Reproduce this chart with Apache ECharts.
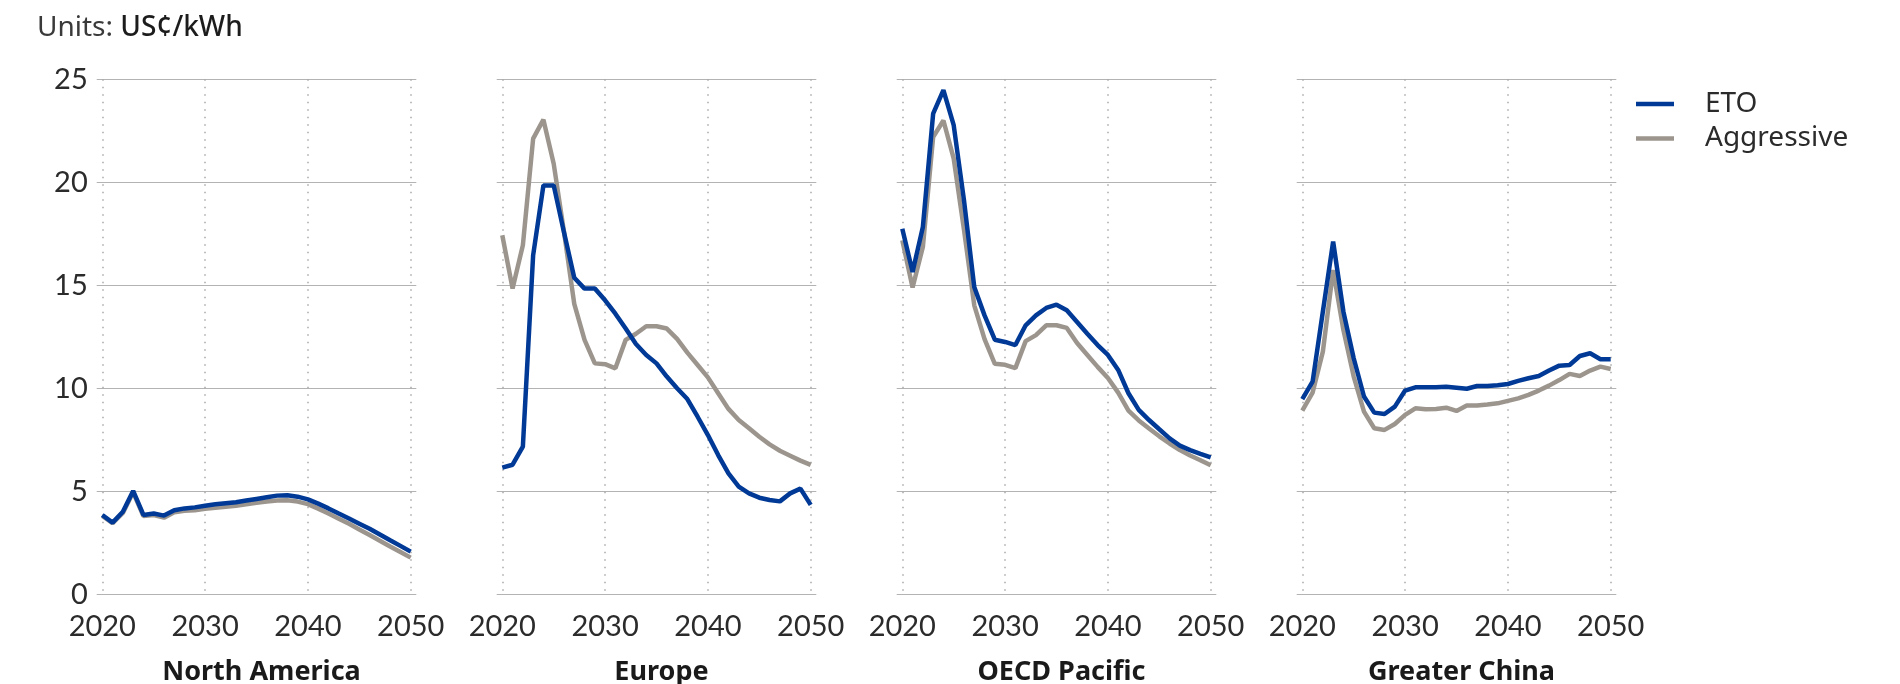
<!DOCTYPE html>
<html>
<head>
<meta charset="utf-8">
<script src="https://cdn.jsdelivr.net/npm/echarts@6/dist/echarts.min.js"></script>
<style>
  html, body { margin: 0; padding: 0; background: #ffffff; }
  #chart { width: 1900px; height: 684px; }
</style>
</head>
<body>
<div id="chart"></div>
<script>
// Levelized electricity price by region, US cents per kWh
const years = [2020, 2021, 2022, 2023, 2024, 2025, 2026, 2027, 2028, 2029,
  2030, 2031, 2032, 2033, 2034, 2035, 2036, 2037, 2038, 2039,
  2040, 2041, 2042, 2043, 2044, 2045, 2046, 2047, 2048, 2049, 2050];

const regions = ['North America', 'Europe', 'OECD Pacific', 'Greater China'];
const scenarios = ['ETO', 'Aggressive'];
const yTicks = [0, 5, 10, 15, 20, 25];
const xTicks = [2020, 2030, 2040, 2050];

const northAmericaETO = [3.85, 3.48, 4.01, 5.02, 3.85, 3.92, 3.82, 4.08, 4.17, 4.22,
  4.30, 4.37, 4.42, 4.47, 4.55, 4.63, 4.71, 4.79, 4.81, 4.74,
  4.61, 4.40, 4.17, 3.92, 3.68, 3.43, 3.18, 2.90, 2.62, 2.35, 2.07];
const northAmericaAggressive = [3.80, 3.45, 3.95, 4.95, 3.80, 3.85, 3.72, 3.98, 4.05, 4.08,
  4.15, 4.20, 4.25, 4.30, 4.37, 4.44, 4.50, 4.55, 4.57, 4.50,
  4.38, 4.16, 3.92, 3.67, 3.42, 3.15, 2.88, 2.60, 2.32, 2.05, 1.78];

const europeETO = [6.15, 6.29, 7.17, 16.46, 19.85, 19.85, 17.57, 15.37, 14.84, 14.84,
  14.27, 13.62, 12.90, 12.15, 11.62, 11.21, 10.57, 10.00, 9.48, 8.62,
  7.73, 6.76, 5.87, 5.23, 4.90, 4.69, 4.58, 4.51, 4.90, 5.13, 4.34];
const europeAggressive = [17.43, 14.84, 16.94, 22.12, 23.04, 20.90, 17.60, 14.10, 12.35, 11.21,
  11.17, 10.97, 12.35, 12.65, 13.01, 13.01, 12.90, 12.40, 11.73, 11.13,
  10.53, 9.76, 9.00, 8.46, 8.06, 7.65, 7.28, 6.97, 6.73, 6.49, 6.28];

const oecdPacificETO = [17.75, 15.65, 17.83, 23.33, 24.47, 22.77, 19.13, 14.92, 13.54, 12.36,
  12.25, 12.10, 13.06, 13.54, 13.90, 14.06, 13.79, 13.22, 12.65, 12.10,
  11.62, 10.89, 9.76, 8.95, 8.46, 8.01, 7.57, 7.22, 7.00, 6.82, 6.65];
const oecdPacificAggressive = [17.18, 14.89, 16.86, 22.20, 23.00, 21.15, 17.70, 14.03, 12.39, 11.19,
  11.14, 10.98, 12.29, 12.58, 13.06, 13.06, 12.93, 12.20, 11.62, 11.04,
  10.50, 9.79, 8.92, 8.44, 8.05, 7.67, 7.32, 7.00, 6.74, 6.51, 6.26];

const greaterChinaETO = [9.47, 10.32, 13.72, 17.12, 13.72, 11.46, 9.60, 8.82, 8.75, 9.11,
  9.89, 10.05, 10.05, 10.05, 10.08, 10.03, 9.98, 10.11, 10.11, 10.15,
  10.21, 10.36, 10.49, 10.60, 10.86, 11.10, 11.13, 11.57, 11.70, 11.41, 11.41];
const greaterChinaAggressive = [8.92, 9.79, 11.78, 15.74, 12.83, 10.57, 8.87, 8.06, 7.98, 8.27,
  8.71, 9.03, 8.98, 9.00, 9.06, 8.90, 9.16, 9.16, 9.21, 9.27,
  9.39, 9.51, 9.68, 9.89, 10.13, 10.40, 10.70, 10.60, 10.86, 11.05, 10.94];

const etoByRegion = [northAmericaETO, europeETO, oecdPacificETO, greaterChinaETO];
const aggressiveByRegion = [northAmericaAggressive, europeAggressive, oecdPacificAggressive, greaterChinaAggressive];

// ---- layout and style ----
const FONT_NUM = 'Lato, "Noto Sans", "DejaVu Sans", sans-serif';
const FONT_TEXT = '"Noto Sans", Lato, "DejaVu Sans", sans-serif';
const TEXT = '#2b2b2b';
const BLUE = '#003a96';
const GREY = '#9c958e';
const PANEL_STEP = 400;
const PLOT_LEFT = 102.3;
const PLOT_WIDTH = 308.4;
const GRID_OVERHANG = 5.6;
const PLOT_TOP = 79.3;
const PLOT_HEIGHT = 515;
const LINE_W = 4.5;

const grid = [], xAxis = [], yAxis = [], series = [], title = [];

title.push({
  text: '{a|Units: }{b|US¢/kWh}',
  left: 32,
  top: 9,
  textStyle: {
    rich: {
      a: { fontFamily: FONT_TEXT, fontSize: 28, color: '#3a3a3a', fontWeight: 'normal' },
      b: { fontFamily: FONT_TEXT, fontSize: 28, color: '#1c1c1c', fontWeight: 500 }
    }
  }
});

regions.forEach((name, i) => {
  const left = PLOT_LEFT + PANEL_STEP * i;
  // background grid: horizontal rules, slightly wider than the plot
  grid.push({ left: left - GRID_OVERHANG, top: PLOT_TOP, width: PLOT_WIDTH + 2 * GRID_OVERHANG, height: PLOT_HEIGHT });
  // plot grid: data and year ticks
  grid.push({ left: left, top: PLOT_TOP, width: PLOT_WIDTH, height: PLOT_HEIGHT });

  xAxis.push({ gridIndex: 2 * i, type: 'value', min: 0, max: 1, show: false });
  yAxis.push({
    gridIndex: 2 * i, type: 'value',
    min: yTicks[0], max: yTicks[yTicks.length - 1], interval: yTicks[1] - yTicks[0],
    axisLine: { show: false }, axisTick: { show: false },
    axisLabel: { show: i === 0, fontFamily: FONT_NUM, fontSize: 29, color: TEXT, margin: 9 },
    splitLine: { show: true, lineStyle: { color: '#b3b3b3', width: 1.2 } }
  });

  xAxis.push({
    gridIndex: 2 * i + 1, type: 'value',
    min: xTicks[0], max: xTicks[xTicks.length - 1], interval: xTicks[1] - xTicks[0],
    axisLine: { show: false }, axisTick: { show: false },
    axisLabel: { fontFamily: FONT_NUM, fontSize: 29, color: TEXT, margin: 18, formatter: v => String(v) },
    splitLine: { show: true, lineStyle: { color: '#a9a9a9', width: 1.5, type: [1.5, 6] } }
  });
  yAxis.push({
    gridIndex: 2 * i + 1, type: 'value',
    min: yTicks[0], max: yTicks[yTicks.length - 1], show: false
  });

  series.push({
    name: scenarios[1], type: 'line',
    xAxisIndex: 2 * i + 1, yAxisIndex: 2 * i + 1,
    data: years.map((y, k) => [y, aggressiveByRegion[i][k]]),
    showSymbol: false, symbol: 'none', color: GREY,
    lineStyle: { width: LINE_W, color: GREY }
  });
  series.push({
    name: scenarios[0], type: 'line',
    xAxisIndex: 2 * i + 1, yAxisIndex: 2 * i + 1,
    data: years.map((y, k) => [y, etoByRegion[i][k]]),
    showSymbol: false, symbol: 'none', color: BLUE,
    lineStyle: { width: LINE_W, color: BLUE }
  });

  title.push({
    text: name,
    left: left + PLOT_WIDTH / 2,
    textAlign: 'center',
    top: 653.5,
    textStyle: { fontFamily: FONT_TEXT, fontSize: 27, fontWeight: 'bold', color: '#1a1a1a' }
  });
});

const chart = echarts.init(document.getElementById('chart'), null, { renderer: 'canvas' });
chart.setOption({
  animation: false,
  backgroundColor: '#ffffff',
  title: title,
  legend: {
    data: scenarios,
    orient: 'vertical',
    left: 1631,
    top: 84,
    icon: 'rect',
    itemWidth: 38,
    itemHeight: 4.5,
    itemGap: 4.5,
    textStyle: { fontFamily: FONT_TEXT, fontSize: 28, color: TEXT, lineHeight: 30, padding: [0, 0, 0, 26] }
  },
  grid: grid,
  xAxis: xAxis,
  yAxis: yAxis,
  series: series
});
</script>
</body>
</html>
